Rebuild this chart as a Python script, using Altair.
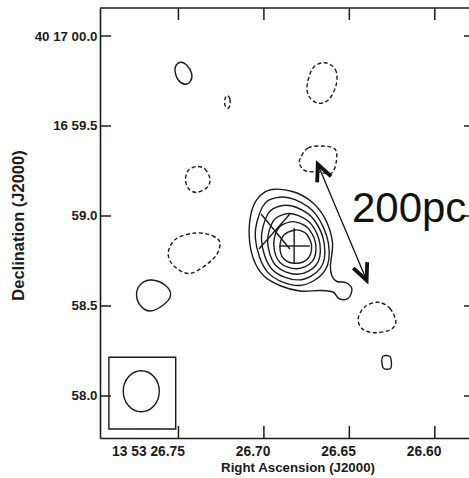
import altair as alt
import pandas as pd

INK = "#1b1b1b"
SANS = "'Liberation Sans', Arial, sans-serif"

W, H = 369, 430

# Field of view: x = RA seconds past 13h53m, y = Dec arcsec past 40d16m (60 = 40d17m00s)
ra_range = [26.5800, 26.7959]
dec_range = [57.7665, 60.1556]

ra_ticks = [26.75, 26.70, 26.65, 26.60]
ra_labels = ["13 53 26.75", "26.70", "26.65", "26.60"]
dec_ticks = [60.0, 59.5, 59.0, 58.5, 58.0]
dec_labels = ["40 17 00.0", "16 59.5", "59.0", "58.5", "58.0"]

# Core: six nested positive contours, the outermost with a knot to the south-west
core1_ra = [26.6953, 26.6828, 26.6721, 26.6643, 26.6599, 26.6611, 26.6602, 26.6573, 26.6520, 26.6485,
            26.6508, 26.6561, 26.6596, 26.6672, 26.6789, 26.6900, 26.7000, 26.7061, 26.7086, 26.7073, 26.7029]
core1_dec = [59.1471, 59.1349, 59.0794, 58.9871, 58.8554, 58.7221, 58.6665, 58.6360, 58.6304, 58.5943,
             58.5415, 58.5415, 58.5776, 58.5860, 58.5832, 58.6110, 58.6665, 58.7610, 58.8888, 59.0221, 59.1055]
core2_ra = [26.6926, 26.6818, 26.6697, 26.6623, 26.6644, 26.6794, 26.6976, 26.7050, 26.7009]
core2_dec = [59.1021, 59.0910, 59.0105, 58.8510, 58.6949, 58.6138, 58.6854, 58.8766, 59.0499]
core3_ra = [26.6899, 26.6808, 26.6709, 26.6647, 26.6668, 26.6798, 26.6953, 26.7014, 26.6977]
core3_dec = [59.0571, 59.0471, 58.9821, 58.8466, 58.7121, 58.6449, 58.7043, 58.8643, 59.0110]
core4_ra = [26.6872, 26.6801, 26.6722, 26.6672, 26.6693, 26.6803, 26.6929, 26.6978, 26.6946]
core4_dec = [59.0121, 59.0032, 58.9538, 58.8421, 58.7293, 58.6760, 58.7232, 58.8521, 58.9721]
core5_ra = [26.6845, 26.6790, 26.6735, 26.6696, 26.6718, 26.6808, 26.6906, 26.6942, 26.6914]
core5_dec = [58.9671, 58.9599, 58.9255, 58.8377, 58.7466, 58.7071, 58.7421, 58.8399, 58.9332]
core6_ra = [26.6818, 26.6780, 26.6748, 26.6721, 26.6742, 26.6812, 26.6883, 26.6906, 26.6883]
core6_dec = [58.9221, 58.9166, 58.8971, 58.8332, 58.7638, 58.7371, 58.7610, 58.8277, 58.8943]

# Isolated positive islands
north_ra = [26.7487, 26.7452, 26.7423, 26.7429, 26.7462, 26.7501, 26.7520, 26.7515]
north_dec = [59.8539, 59.8389, 59.7928, 59.7500, 59.7317, 59.7556, 59.8017, 59.8350]
east_ra = [26.7657, 26.7579, 26.7546, 26.7589, 26.7667, 26.7725, 26.7745, 26.7715]
east_dec = [58.6444, 58.6166, 58.5610, 58.5054, 58.4721, 58.5054, 58.5704, 58.6260]
south_ra = [26.6301, 26.6263, 26.6254, 26.6260, 26.6298, 26.6310]
south_dec = [58.2221, 58.2194, 58.1833, 58.1527, 58.1527, 58.1887]

# Negative contours
neg1_ra = [26.7213, 26.7199, 26.7199, 26.7213, 26.7228, 26.7228]
neg1_dec = [59.6694, 59.6500, 59.6166, 59.5972, 59.6166, 59.6500]
neg2_ra = [26.6643, 26.6582, 26.6576, 26.6620, 26.6682, 26.6735, 26.6747, 26.6713]
neg2_dec = [59.8517, 59.8139, 59.7333, 59.6472, 59.6261, 59.6628, 59.7278, 59.8222]
neg3_ra = [26.6789, 26.6742, 26.6655, 26.6585, 26.6575, 26.6604, 26.6684, 26.6754, 26.6786]
neg3_dec = [59.3166, 59.3777, 59.3888, 59.3722, 59.3111, 59.2388, 59.2444, 59.2500, 59.2777]
neg4_ra = [26.7394, 26.7345, 26.7316, 26.7330, 26.7392, 26.7439, 26.7459, 26.7443]
neg4_dec = [59.2750, 59.2611, 59.2094, 59.1610, 59.1316, 59.1500, 59.2000, 59.2527]
neg5_ra = [26.7403, 26.7304, 26.7257, 26.7292, 26.7427, 26.7526, 26.7560, 26.7515]
neg5_dec = [58.9055, 58.8916, 58.8500, 58.7666, 58.6816, 58.7221, 58.7944, 58.8722]
neg6_ra = [26.6331, 26.6263, 26.6228, 26.6263, 26.6360, 26.6428, 26.6448, 26.6409]
neg6_dec = [58.5205, 58.4871, 58.4127, 58.3665, 58.3516, 58.3760, 58.4316, 58.4960]

# Restoring beam and its box
beam_ra = [26.7718, 26.7643, 26.7612, 26.7643, 26.7718, 26.7792, 26.7823, 26.7792]
beam_dec = [58.1404, 58.1071, 58.0265, 57.9460, 57.9126, 57.9460, 58.0265, 58.1071]
box_ra = [26.7907, 26.7516]
box_dec = [58.2149, 57.8165]

# Markers: "+" at the peak and an "x" just to the north-east
seg_ra = [26.6910, 26.6823, 26.7017, 26.7029]
seg_dec = [58.8332, 58.9332, 59.0110, 58.8166]
seg_ra2 = [26.6731, 26.6823, 26.6848, 26.6848]
seg_dec2 = [58.8332, 58.7332, 58.8166, 59.0110]

# 200 pc scale bar
bar_ra = [26.6685, 26.6399]
bar_dec = [59.2872, 58.6432]
bar_text = "200pc"
bar_text_ra = [26.6485]
bar_text_dec = [58.9683]

solid = {
    "core1": (core1_ra, core1_dec), "core2": (core2_ra, core2_dec), "core3": (core3_ra, core3_dec),
    "core4": (core4_ra, core4_dec), "core5": (core5_ra, core5_dec), "core6": (core6_ra, core6_dec),
    "north": (north_ra, north_dec), "east": (east_ra, east_dec), "south": (south_ra, south_dec),
    "beam": (beam_ra, beam_dec),
}
dashed = {
    "neg1": (neg1_ra, neg1_dec), "neg2": (neg2_ra, neg2_dec), "neg3": (neg3_ra, neg3_dec),
    "neg4": (neg4_ra, neg4_dec), "neg5": (neg5_ra, neg5_dec), "neg6": (neg6_ra, neg6_dec),
}


def contour_table(groups):
    rows = []
    for name, (ra, dec) in groups.items():
        for i, (r, d) in enumerate(zip(ra, dec)):
            rows.append({"name": name, "i": i, "ra": r, "dec": d})
    return pd.DataFrame(rows)


def label_expr(values, labels):
    expr = "".join(f"abs(datum.value - {v}) < 0.001 ? '{t}' : " for v, t in zip(values, labels))
    return expr + "''"


x_scale = alt.Scale(domain=ra_range, reverse=True, nice=False, zero=False)
y_scale = alt.Scale(domain=dec_range, nice=False, zero=False)

x_axis = alt.Axis(
    values=ra_ticks, labelExpr=label_expr(ra_ticks, ra_labels), ticks=False, tickSize=0, grid=False,
    domainColor=INK, domainWidth=1.6, labelFont=SANS, labelFontSize=13.8, labelFontWeight="bold",
    labelColor=INK, labelBaseline="alphabetic", labelAlign="right", labelOffset=6, labelPadding=17,
    labelFlush=False, labelOverlap=False,
    title="Right Ascension (J2000)", titleFont=SANS, titleFontSize=13.3, titleFontWeight="bold",
    titleColor=INK, titleX=197.5, titleY=33, titleBaseline="alphabetic", titleAlign="center",
)
y_axis = alt.Axis(
    values=dec_ticks, labelExpr=label_expr(dec_ticks, dec_labels), ticks=False, tickSize=0, grid=False,
    domainColor=INK, domainWidth=1.6, labelFont=SANS, labelFontSize=13.3, labelFontWeight="bold",
    labelColor=INK, labelPadding=3, labelFlush=False, labelOverlap=False,
    title="Declination (J2000)", titleFont=SANS, titleFontSize=16.5, titleFontWeight="bold",
    titleColor=INK, titleX=-82, titleY=217, titleAngle=270, titleAlign="center", titleBaseline="middle",
)


def X(field="ra"):
    return alt.X(field, type="quantitative", scale=x_scale, axis=x_axis)


def Y(field="dec"):
    return alt.Y(field, type="quantitative", scale=y_scale, axis=y_axis)


solid_lines = alt.Chart(contour_table(solid)).mark_line(
    interpolate="cardinal-closed", color=INK, strokeWidth=1.4
).encode(x=X(), y=Y(), detail="name:N", order="i:Q")

dashed_lines = alt.Chart(contour_table(dashed)).mark_line(
    interpolate="cardinal-closed", color=INK, strokeWidth=1.4, strokeDash=[4, 2.5]
).encode(x=X(), y=Y(), detail="name:N", order="i:Q")

box = alt.Chart(pd.DataFrame({"ra": [box_ra[0]], "ra2": [box_ra[1]],
                              "dec": [box_dec[0]], "dec2": [box_dec[1]]})).mark_rect(
    fillOpacity=0, stroke=INK, strokeWidth=1.4
).encode(x=X(), x2="ra2", y=Y(), y2="dec2")

markers = alt.Chart(pd.DataFrame({"ra": seg_ra, "dec": seg_dec, "ra2": seg_ra2, "dec2": seg_dec2})).mark_rule(
    color=INK, strokeWidth=1.4
).encode(x=X(), y=Y(), x2="ra2", y2="dec2")

bar_shaft = alt.Chart(pd.DataFrame({"ra": [bar_ra[0]], "dec": [bar_dec[0]],
                                    "ra2": [bar_ra[1]], "dec2": [bar_dec[1]]})).mark_rule(
    color="#111111", strokeWidth=1.3
).encode(x=X(), y=Y(), x2="ra2", y2="dec2")

HEAD = "M -0.42 0.91 L 0 0 L 0.42 0.91"
bar_heads = alt.Chart(pd.DataFrame({"ra": bar_ra, "dec": bar_dec, "angle": [337, 157]})).mark_point(
    shape=HEAD, filled=False, size=1300, stroke="#111111", strokeWidth=3.8,
    strokeJoin="miter", strokeCap="butt", opacity=1
).encode(x=X(), y=Y(), angle=alt.Angle("angle:Q", scale=None))

bar_label = alt.Chart(pd.DataFrame({"ra": bar_text_ra, "dec": bar_text_dec, "t": [bar_text]})).mark_text(
    align="left", baseline="alphabetic", font=SANS, fontSize=42, color="#111111"
).encode(x=X(), y=Y(), text="t:N")

ra_tick_df = pd.DataFrame({"ra": ra_ticks})
dec_tick_df = pd.DataFrame({"dec": dec_ticks})
tick_style = dict(color=INK, strokeWidth=1.5)

top_ticks = alt.Chart(ra_tick_df).mark_rule(**tick_style).encode(
    x=X(), y=alt.value(0), y2=alt.value(12))
bottom_ticks = alt.Chart(ra_tick_df).mark_rule(**tick_style).encode(
    x=X(), y=alt.value(H - 12), y2=alt.value(H))
left_ticks = alt.Chart(dec_tick_df).mark_rule(**tick_style).encode(
    y=Y(), x=alt.value(0), x2=alt.value(11))
right_ticks = alt.Chart(dec_tick_df).mark_rule(**tick_style).encode(
    y=Y(), x=alt.value(W - 5), x2=alt.value(W))
top_edge = alt.Chart(ra_tick_df.head(1)).mark_rule(color=INK, strokeWidth=1.6).encode(
    x=alt.value(0), x2=alt.value(W), y=alt.value(0))

chart = alt.layer(
    solid_lines, dashed_lines, box, markers, top_ticks, bottom_ticks, left_ticks, right_ticks,
    top_edge, bar_shaft, bar_heads, bar_label,
).properties(
    width=W, height=H,
    padding={"left": 100, "top": 8, "right": 0, "bottom": 40},
    autosize=alt.AutoSizeParams(type="none"),
    background="white",
).configure_view(strokeWidth=0)

chart.save("out.html", embed_options={"renderer": "svg", "actions": False})
